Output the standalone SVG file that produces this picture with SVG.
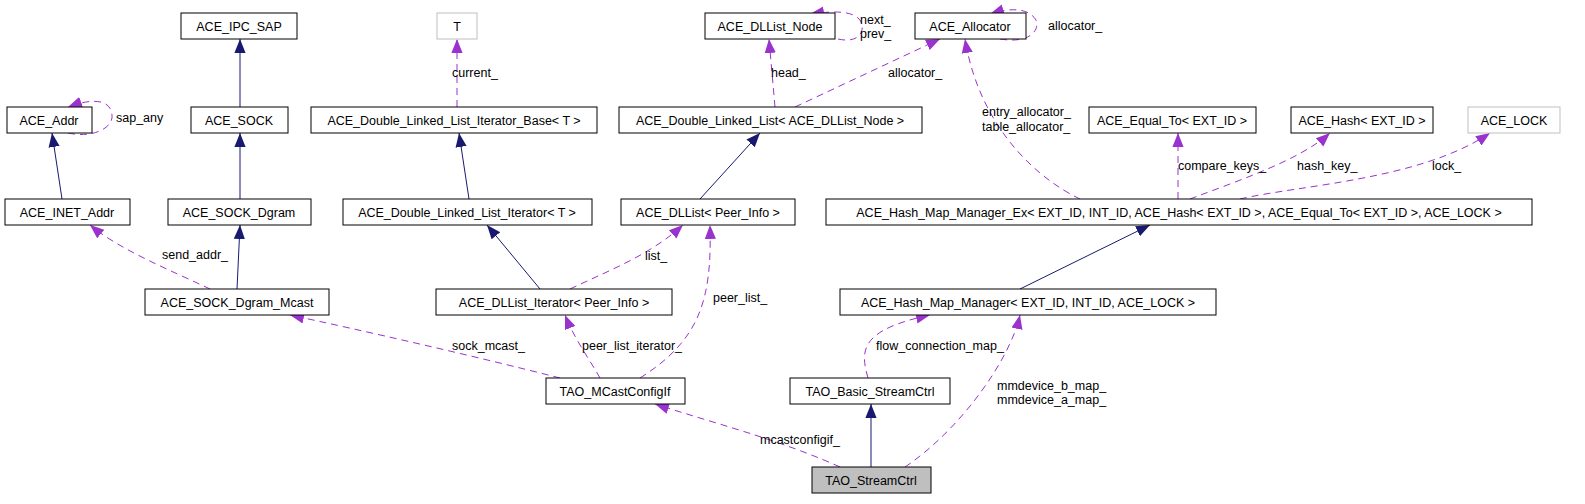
<svg xmlns="http://www.w3.org/2000/svg" width="1585" height="504" viewBox="0 0 1585 504">
<style>
.n rect{fill:#fff;stroke:#000;stroke-width:1}
.g rect{stroke:#bfbfbf}
text{font-family:"Liberation Sans",Arial,sans-serif;font-size:12.5px;fill:#000}
.n text{text-anchor:middle}
.b{fill:none;stroke:#191970;stroke-width:1;marker-end:url(#ab)}
.p{fill:none;stroke:#9a32cd;stroke-width:1;stroke-dasharray:7,5;marker-end:url(#ap)}
</style>
<defs>
<marker id="ab" viewBox="0 0 10 10" refX="10" refY="5" markerWidth="14" markerHeight="14" markerUnits="userSpaceOnUse" orient="auto"><path d="M0,1L10,5L0,9z" fill="#191970"/></marker>
<marker id="ap" viewBox="0 0 10 10" refX="10" refY="5" markerWidth="14" markerHeight="14" markerUnits="userSpaceOnUse" orient="auto"><path d="M0,1L10,5L0,9z" fill="#9a32cd"/></marker>
</defs>
<rect width="1585" height="504" fill="#fff"/>
<g id="connectors">
<path class="b" d="M62,199L52,133"/>
<path class="b" d="M240,107L240,39"/>
<path class="b" d="M240,199L240,133"/>
<path class="b" d="M237,289L240,225"/>
<path class="b" d="M469,199L459,133"/>
<path class="b" d="M540,289L487,225"/>
<path class="b" d="M700,199L760,133"/>
<path class="b" d="M1020,289L1150,225"/>
<path class="b" d="M871,467L871,404"/>
<path class="p" d="M68,133C90,138 110,130 112,118C113,100 95,97 68,107"/>
<path class="p" d="M457,107L457,39"/>
<path class="p" d="M838,39C860,44 866,30 860,20C853,12 840,10 810,14"/>
<path class="p" d="M775,107L769,39"/>
<path class="p" d="M795,107L940,39"/>
<path class="p" d="M1000,39C1030,44 1040,30 1036,20C1030,10 1015,6 990,14"/>
<path class="p" d="M1080,199C1040,180 980,130 965,39"/>
<path class="p" d="M1178,199L1178,133"/>
<path class="p" d="M1190,199C1240,180 1300,160 1330,133"/>
<path class="p" d="M1240,199C1300,185 1420,180 1490,133"/>
<path class="p" d="M210,289C170,270 120,250 90,225"/>
<path class="p" d="M570,289C610,270 650,255 683,225"/>
<path class="p" d="M560,378C470,355 360,330 290,315"/>
<path class="p" d="M600,378C590,360 575,340 565,315"/>
<path class="p" d="M640,378C700,340 712,300 710,225"/>
<path class="p" d="M868,378C860,350 860,330 930,315"/>
<path class="p" d="M905,467C960,430 1010,360 1020,315"/>
<path class="p" d="M840,467C780,440 720,425 655,404"/>
</g>
<g id="labels">
<text x="116" y="122">sap_any</text>
<text x="452" y="77">current_</text>
<text x="860" y="24">next_</text>
<text x="860" y="38">prev_</text>
<text x="771" y="77">head_</text>
<text x="888" y="77">allocator_</text>
<text x="1048" y="30">allocator_</text>
<text x="982" y="116">entry_allocator_</text>
<text x="982" y="131">table_allocator_</text>
<text x="1178" y="170">compare_keys_</text>
<text x="1297" y="170">hash_key_</text>
<text x="1432" y="170">lock_</text>
<text x="162" y="259">send_addr_</text>
<text x="645" y="260">list_</text>
<text x="452" y="350">sock_mcast_</text>
<text x="582" y="350">peer_list_iterator_</text>
<text x="713" y="302">peer_list_</text>
<text x="876" y="350">flow_connection_map_</text>
<text x="997" y="390">mmdevice_b_map_</text>
<text x="997" y="404">mmdevice_a_map_</text>
<text x="760" y="444">mcastconfigif_</text>
</g>
<g id="ACE_IPC_SAP" class="n"><rect x="181" y="13" width="116" height="26"/><text x="239" y="31">ACE_IPC_SAP</text></g>
<g id="T" class="n g"><rect x="437" y="13" width="40" height="26"/><text x="457" y="31">T</text></g>
<g id="ACE_DLList_Node" class="n"><rect x="705" y="13" width="130" height="26"/><text x="770" y="31">ACE_DLList_Node</text></g>
<g id="ACE_Allocator" class="n"><rect x="915" y="13" width="111" height="26"/><text x="970" y="31">ACE_Allocator</text></g>
<g id="ACE_Addr" class="n"><rect x="7" y="107" width="85" height="26"/><text x="49" y="125">ACE_Addr</text></g>
<g id="ACE_SOCK" class="n"><rect x="191" y="107" width="97" height="26"/><text x="239" y="125">ACE_SOCK</text></g>
<g id="Iter_Base" class="n"><rect x="311" y="107" width="286" height="26"/><text x="454" y="125">ACE_Double_Linked_List_Iterator_Base&lt; T &gt;</text></g>
<g id="DLL" class="n"><rect x="619" y="107" width="303" height="26"/><text x="770" y="125">ACE_Double_Linked_List&lt; ACE_DLList_Node &gt;</text></g>
<g id="Equal_To" class="n"><rect x="1089" y="107" width="167" height="26"/><text x="1172" y="125">ACE_Equal_To&lt; EXT_ID &gt;</text></g>
<g id="Hash" class="n"><rect x="1291" y="107" width="142" height="26"/><text x="1362" y="125">ACE_Hash&lt; EXT_ID &gt;</text></g>
<g id="ACE_LOCK" class="n g"><rect x="1468" y="107" width="92" height="26"/><text x="1514" y="125">ACE_LOCK</text></g>
<g id="ACE_INET_Addr" class="n"><rect x="5" y="199" width="125" height="26"/><text x="67" y="217">ACE_INET_Addr</text></g>
<g id="ACE_SOCK_Dgram" class="n"><rect x="168" y="199" width="143" height="26"/><text x="239" y="217">ACE_SOCK_Dgram</text></g>
<g id="Iter_T" class="n"><rect x="343" y="199" width="249" height="26"/><text x="467" y="217">ACE_Double_Linked_List_Iterator&lt; T &gt;</text></g>
<g id="DLList_Peer" class="n"><rect x="621" y="199" width="174" height="26"/><text x="708" y="217">ACE_DLList&lt; Peer_Info &gt;</text></g>
<g id="HMM_Ex" class="n"><rect x="826" y="199" width="706" height="26"/><text x="1179" y="217">ACE_Hash_Map_Manager_Ex&lt; EXT_ID, INT_ID, ACE_Hash&lt; EXT_ID &gt;, ACE_Equal_To&lt; EXT_ID &gt;, ACE_LOCK &gt;</text></g>
<g id="Mcast" class="n"><rect x="145" y="289" width="184" height="26"/><text x="237" y="307">ACE_SOCK_Dgram_Mcast</text></g>
<g id="DLList_Iter" class="n"><rect x="436" y="289" width="236" height="26"/><text x="554" y="307">ACE_DLList_Iterator&lt; Peer_Info &gt;</text></g>
<g id="HMM" class="n"><rect x="840" y="289" width="376" height="26"/><text x="1028" y="307">ACE_Hash_Map_Manager&lt; EXT_ID, INT_ID, ACE_LOCK &gt;</text></g>
<g id="MCastConfigIf" class="n"><rect x="546" y="378" width="139" height="26"/><text x="615" y="396">TAO_MCastConfigIf</text></g>
<g id="Basic_StreamCtrl" class="n"><rect x="790" y="378" width="160" height="26"/><text x="870" y="396">TAO_Basic_StreamCtrl</text></g>
<g id="StreamCtrl" class="n"><rect x="812" y="467" width="119" height="26" style="fill:#bfbfbf"/><text x="871" y="485">TAO_StreamCtrl</text></g>
</svg>
